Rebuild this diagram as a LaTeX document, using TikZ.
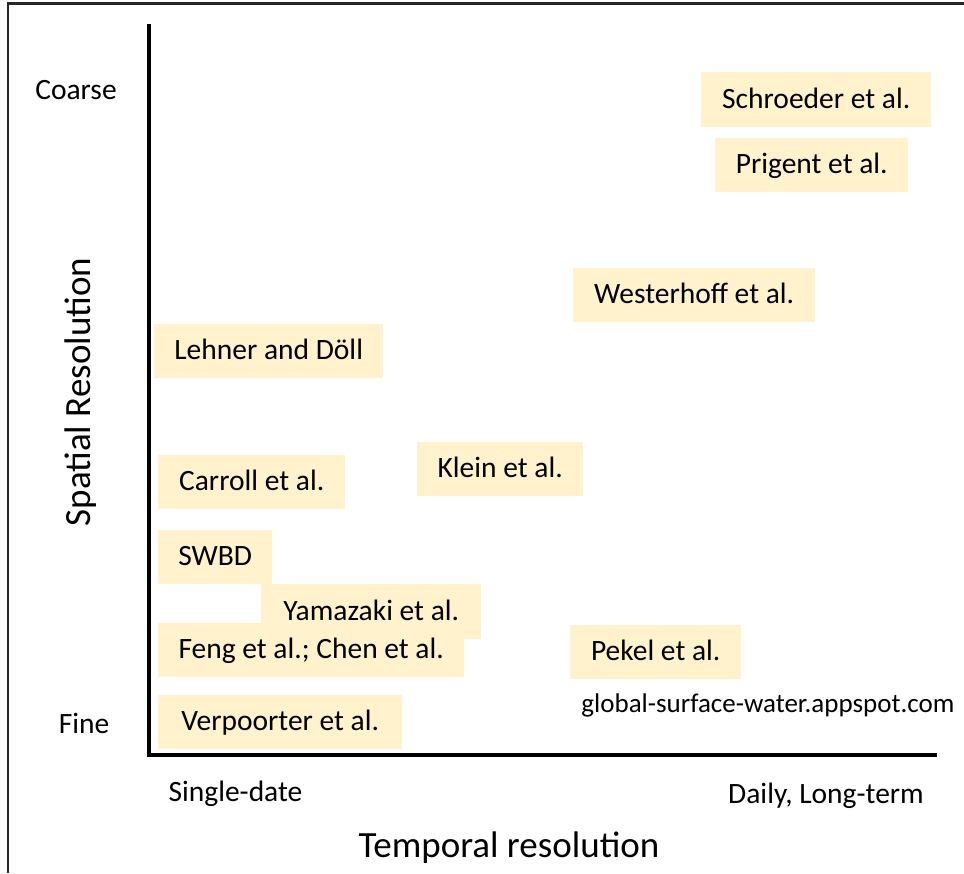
\documentclass[tikz,border=0pt]{standalone}
\usepackage{fontspec}
\setmainfont{Carlito}
\definecolor{boxfill}{HTML}{FFF2CC}
\tikzset{
  every node/.style={font=\fontsize{29.5}{35}\selectfont},
  refbox/.style={fill=boxfill, draw=none, inner sep=0pt, text height=21pt, text depth=4pt, anchor=north west},
  axislabel/.style={anchor=base, inner sep=0pt},
  bigtitle/.style={font=\fontsize{37}{44}\selectfont, inner sep=0pt},
  axisline/.style={line width=3.3pt, black},
  frameline/.style={line width=2.5pt, black!85}
}
\begin{document}
\begin{tikzpicture}[x=1pt,y=-1pt]
\useasboundingbox (0,0) rectangle (964,873);
% frame
\coordinate (f1) at (8,873);
\coordinate (f2) at (8,3.5);
\coordinate (f3) at (964,3.5);
\draw[frameline] (f1) -- (f2) -- (f3);
% axes
\coordinate (yt) at (149,24);
\coordinate (o) at (149,755);
\coordinate (xr) at (937,755);
\draw[axisline] (yt) -- (o) -- (xr);
% boxes
\node[refbox, minimum width=230, minimum height=55] (schroeder) at (701,72) {Schroeder et al.};
\node[refbox, minimum width=193, minimum height=54] (prigent) at (715,138) {Prigent et al.};
\node[refbox, minimum width=242, minimum height=54] (westerhoff) at (573,268) {Westerhoff et al.};
\node[refbox, minimum width=229, minimum height=54] (lehner) at (154,324) {Lehner and Döll};
\node[refbox, minimum width=166, minimum height=54] (klein) at (417,442) {Klein et al.};
\node[refbox, minimum width=187, minimum height=54] (carroll) at (158,455) {Carroll et al.};
\node[refbox, minimum width=114, minimum height=54] (swbd) at (158,530) {SWBD};
\node[refbox, minimum width=220, minimum height=55] (yamazaki) at (261,584) {Yamazaki et al.};
\node[refbox, minimum width=306, minimum height=54] (feng) at (158,623) {Feng et al.; Chen et al.};
\node[refbox, minimum width=171, minimum height=54] (pekel) at (570,625) {Pekel et al.};
\node[refbox, minimum width=244, minimum height=54] (verpoorter) at (158,695) {Verpoorter et al.};
\node[anchor=base, inner sep=0pt, font=\fontsize{27}{32}\selectfont] (url) at (768,712) {global-surface-water.appspot.com};
% axis labels
\node[axislabel] (coarse) at (76,99) {Coarse};
\node[axislabel] (fine) at (84,733) {Fine};
\node[axislabel] (single) at (235.5,801) {Single-date};
\node[axislabel] (daily) at (826,803) {Daily, Long-term};
\node[bigtitle, rotate=90, anchor=base] (spatial) at (90,392) {Spatial Resolution};
\node[bigtitle, anchor=base] (temporal) at (509,857) {Temporal resolution};
\end{tikzpicture}
\end{document}
